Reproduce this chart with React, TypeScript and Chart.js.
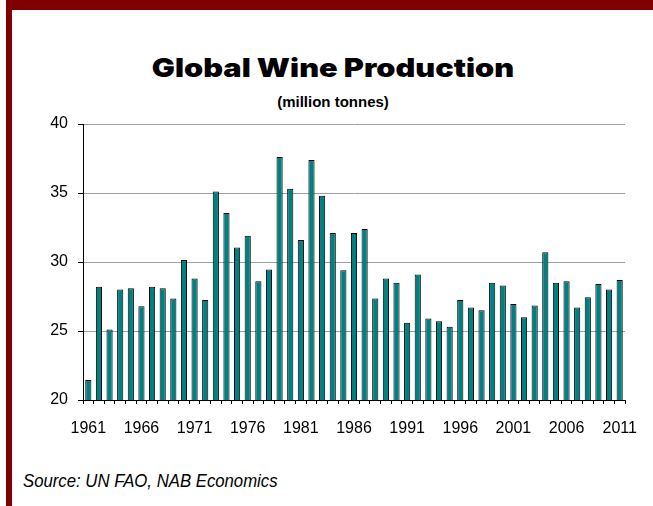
import React, { useEffect, useRef } from 'react';
import { Chart, registerables } from 'chart.js';

Chart.register(...registerables);

const years: string[] = [
  '1961', '1962', '1963', '1964', '1965', '1966', '1967', '1968', '1969', '1970',
  '1971', '1972', '1973', '1974', '1975', '1976', '1977', '1978', '1979', '1980',
  '1981', '1982', '1983', '1984', '1985', '1986', '1987', '1988', '1989', '1990',
  '1991', '1992', '1993', '1994', '1995', '1996', '1997', '1998', '1999', '2000',
  '2001', '2002', '2003', '2004', '2005', '2006', '2007', '2008', '2009', '2010',
  '2011',
];

const production: number[] = [
  21.45, 28.2, 25.1, 28.0, 28.1, 26.8, 28.2, 28.1, 27.35, 30.15,
  28.8, 27.25, 35.1, 33.55, 31.05, 31.9, 28.6, 29.45, 37.6, 35.3,
  31.6, 37.4, 34.8, 32.1, 29.4, 32.1, 32.4, 27.35, 28.8, 28.5,
  25.6, 29.1, 25.9, 25.7, 25.3, 27.25, 26.7, 26.5, 28.5, 28.3,
  26.95, 26.0, 26.85, 30.7, 28.5, 28.6, 26.7, 27.45, 28.4, 28.0,
  28.7,
];

const yMin = 20;
const yMax = 40;
const yStep = 5;
const labelEvery = 5;

const titleText = 'Global Wine Production';
const subtitleText = '(million tonnes)';
const sourceText = 'Source: UN FAO, NAB Economics';

const FONT = '"Liberation Sans", Arial, sans-serif';

export default function App() {
  const ref = useRef<HTMLCanvasElement>(null);

  useEffect(() => {
    if (!ref.current) return;
    const chart = new Chart(ref.current, {
      type: 'bar',
      data: {
        labels: years,
        datasets: [
          {
            data: production,
            backgroundColor: '#008080',
            borderColor: '#000000',
            borderWidth: 1,
            barPercentage: 0.58,
            categoryPercentage: 1,
          },
        ],
      },
      options: {
        animation: false,
        responsive: false,
        devicePixelRatio: 1,
        layout: { padding: { top: 24, right: 28, left: 0, bottom: 0 } },
        plugins: {
          legend: { display: false },
          tooltip: { enabled: false },
        },
        scales: {
          x: {
            offset: true,
            grid: {
              offset: true,
              drawOnChartArea: false,
              drawTicks: true,
              tickLength: 4,
              tickColor: '#000000',
            },
            border: { color: '#000000', width: 1 },
            ticks: {
              autoSkip: false,
              maxRotation: 0,
              minRotation: 0,
              padding: 15,
              color: '#000000',
              font: { family: FONT, size: 16 },
              callback: (_v: any, i: number) => (i % labelEvery === 0 ? years[i] : ''),
            },
            afterFit: (s: any) => {
              s.height = 50;
            },
          },
          y: {
            min: yMin,
            max: yMax,
            ticks: {
              stepSize: yStep,
              padding: 10,
              color: '#000000',
              font: { family: FONT, size: 16 },
            },
            grid: {
              color: (ctx: any) => (ctx.tick && ctx.tick.value === yMin ? '#000000' : '#a0a0a0'),
              tickColor: '#000000',
              tickLength: 5,
              lineWidth: 1,
            },
            border: { color: '#000000', width: 1 },
            afterFit: (s: any) => {
              s.width = 71;
            },
          },
        },
      },
    });
    return () => chart.destroy();
  }, []);

  return (
    <div
      style={{
        position: 'absolute',
        left: 0,
        top: 0,
        width: 653,
        height: 506,
        background: '#ffffff',
        overflow: 'hidden',
      }}
    >
      <div style={{ position: 'absolute', left: 6, top: 0, right: 0, height: 10, background: '#800000' }} />
      <div style={{ position: 'absolute', left: 6, top: 0, width: 6, bottom: 0, background: '#800000' }} />
      <div
        style={{
          position: 'absolute',
          left: 13,
          width: 640,
          top: 55,
          textAlign: 'center',
          fontFamily: 'Inter, "DejaVu Sans", sans-serif',
          fontWeight: 900,
          fontSize: 26,
          lineHeight: '26px',
          color: '#000',
          whiteSpace: 'nowrap',
          transform: 'scaleX(1.18)',
          transformOrigin: '320px 50%',
        }}
      >
        {titleText}
      </div>
      <div
        style={{
          position: 'absolute',
          left: 13,
          width: 640,
          top: 94,
          textAlign: 'center',
          fontFamily: FONT,
          fontWeight: 700,
          fontSize: 15,
          lineHeight: '16px',
          color: '#000',
          whiteSpace: 'nowrap',
        }}
      >
        {subtitleText}
      </div>
      <canvas
        ref={ref}
        width={641}
        height={350}
        style={{ position: 'absolute', left: 12, top: 100, width: 641, height: 350 }}
      />
      <div
        style={{
          position: 'absolute',
          left: 23,
          top: 471,
          fontFamily: FONT,
          fontStyle: 'italic',
          fontSize: 18,
          lineHeight: '20px',
          color: '#000',
          whiteSpace: 'nowrap',
          transform: 'scaleX(0.93)',
          transformOrigin: 'left center',
        }}
      >
        {sourceText}
      </div>
    </div>
  );
}
